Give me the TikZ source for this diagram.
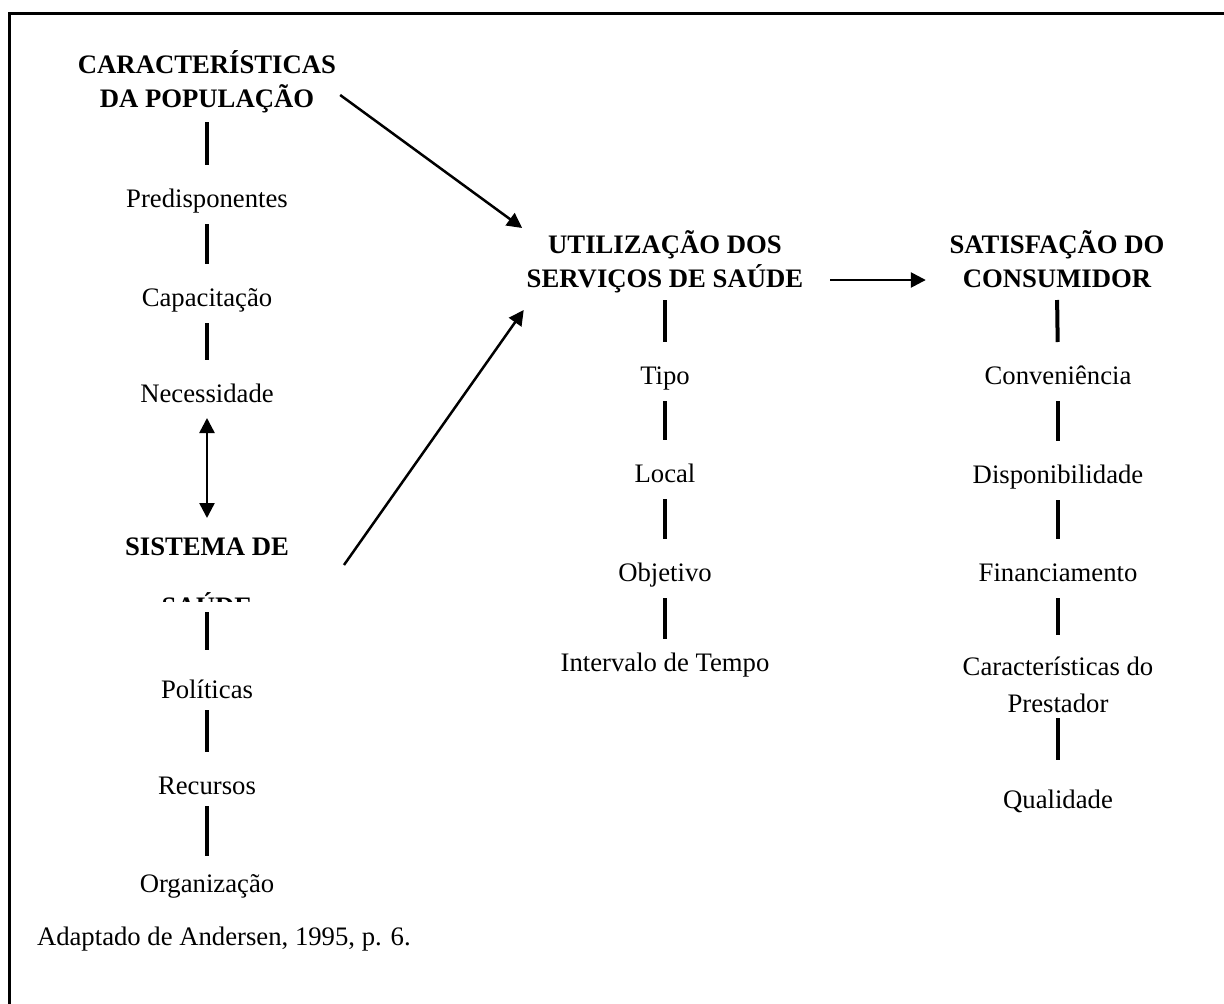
\documentclass[tikz,border=0pt]{standalone}
\usepackage{fontspec}
\setmainfont{Liberation Serif}
\usetikzlibrary{arrows.meta,calc}

\begin{document}
\begin{tikzpicture}[x=1pt,y=-1pt,
  txt/.style={inner sep=0pt,outer sep=0pt,anchor=base,text height=20pt,text depth=6pt,
              font=\fontsize{26.7}{32}\selectfont},
  head/.style={txt,font=\fontsize{26.7}{32}\selectfont\bfseries},
  bar/.style={line width=4pt,shorten <=11pt,shorten >=22pt},
  arr/.style={line width=2.5pt,-{Triangle[length=15pt,width=15pt]}},
  darr/.style={line width=2.5pt,{Triangle[length=15pt,width=15pt]}-{Triangle[length=15pt,width=15pt]}}]

\useasboundingbox (0,0) rectangle (1224,1004);
\clip (0,0) rectangle (1224,1004);
\fill[white] (0,0) rectangle (1224,1004);

% frame (its right and bottom sides fall outside the page)
\draw[line width=3pt] (9,1030) -- (9,13) -- (1250,13);

% left column: population characteristics and health system
\node[head] (car1) at (207,73) {CARACTERÍSTICAS};
\node[head] (car2) at (207,107) {DA POPULAÇÃO};
\node[txt] (pred) at (207,207) {Predisponentes};
\node[txt] (capa) at (207,306) {Capacitação};
\node[txt] (nec) at (207,402) {Necessidade};
\node[head] (sis1) at (207,555) {SISTEMA DE};
\begin{scope}
  \clip (0,0) rectangle (1224,601);
  \node[head] (sis2) at (207,615) {SAÚDE};
\end{scope}
\node[txt] (pol) at (207,698) {Políticas};
\node[txt] (rec) at (207,794) {Recursos};
\node[txt] (org) at (207,892) {Organização};

% middle column: use of services
\node[head] (uti1) at (665,253) {UTILIZAÇÃO DOS};
\node[head] (uti2) at (665,287) {SERVIÇOS DE SAÚDE};
\node[txt] (tipo) at (665,384) {Tipo};
\node[txt] (local) at (665,482) {Local};
\node[txt] (obj) at (665,581) {Objetivo};
\begin{scope}
  \clip (0,0) rectangle (1224,677);
  \node[txt] (int) at (665,671) {Intervalo de Tempo};
\end{scope}

% right column: consumer satisfaction
\node[head] (sat1) at (1057,253) {SATISFAÇÃO DO};
\node[head] (sat2) at (1057,287) {CONSUMIDOR};
\node[txt] (conv) at (1058,384) {Conveniência};
\node[txt] (disp) at (1058,483) {Disponibilidade};
\node[txt] (fin) at (1058,581) {Financiamento};
\node[txt] (cp1) at (1058,675) {Características do};
\node[txt] (cp2) at (1058,712) {Prestador};
\node[txt] (qual) at (1058,808) {Qualidade};

% source
\node[txt,anchor=base west] (src) at (37,945) {Adaptado de Andersen, 1995, p. 6.};

% vertical bars
\draw[bar,shorten <=9pt] (car2.south) -- (pred.north);
\draw[bar] (pred.south) -- (capa.north);
\draw[bar] (capa.south) -- (nec.north);
\draw[bar,shorten <=-9pt,shorten >=28pt] (sis2.south) -- (pol.north);
\draw[bar,shorten <=6pt] (pol.south) -- (rec.north);
\draw[bar,shorten <=6pt,shorten >=16pt] (rec.south) -- (org.north);

\draw[bar,shorten <=7pt] (uti2.south) -- (tipo.north);
\draw[bar] (tipo.south) -- (local.north);
\draw[bar] (local.south) -- (obj.north);
\draw[bar,shorten >=12pt] (obj.south) -- (int.north);

\draw[bar,shorten <=7pt] (sat2.south) -- (conv.north);
\draw[bar] (conv.south) -- (disp.north);
\draw[bar] (disp.south) -- (fin.north);
\draw[bar,shorten >=20pt] (fin.south) -- (cp1.north);
\draw[bar,shorten <=0pt,shorten >=28pt] (cp2.south) -- (qual.north);

% arrows
\draw[darr,shorten <=10pt,shorten >=17pt] (nec.south) -- (sis1.north);
\draw[arr] ($(car2.east)+(26,-5)$) -- ($(uti1.west)+(-26,-18)$);
\draw[arr] ($(sis1.east)+(55,17)$) -- ($(uti2.west)+(-3,30)$);
\draw[arr] ($(uti2.east)+(27,0)$) -- ($(sat2.west)+(-37,0)$);
\end{tikzpicture}
\end{document}
